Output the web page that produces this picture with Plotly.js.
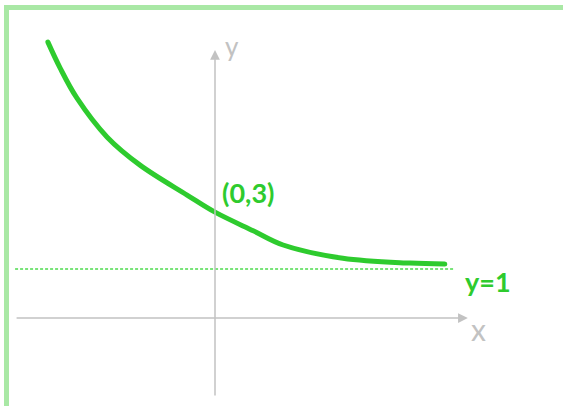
<!DOCTYPE html>
<html><head><meta charset="utf-8">
<script src="https://cdn.plot.ly/plotly-3.0.1.min.js"></script>
<style>html,body{margin:0;padding:0;background:#fff;}#chart{width:563px;height:406px;}
.scatterlayer .trace:last-child path.js-line{stroke-linecap:round !important;stroke-linejoin:round !important;}</style>
</head><body><div id="chart"></div>
<script>
// Curve (units: origin at axes crossing, asymptote at y=1)
const curveX = [-3.41, -3.16, -2.82, -2.20, -1.53, -0.57, 0.00, 0.78, 1.39, 2.61, 3.98, 4.69];
const curveY = [5.63, 5.10, 4.49, 3.69, 3.12, 2.51, 2.16, 1.78, 1.49, 1.22, 1.12, 1.10];
const asymX = [-4.08, 4.90];
const asymY = [1, 1];
const pointLabel = "(0,3)";
const asymLabel = "y=1";
const xLabel = "x";
const yLabel = "y";

const green = "#2ecb2e";
const gray = "#c2c2c2";

const traces = [
  {x: asymX, y: asymY, mode: "lines", line: {color: "#4ddc4d", width: 1.5, dash: "3px,2px"}, hoverinfo: "skip"},
  {x: curveX, y: curveY, mode: "lines", line: {color: green, width: 5, shape: "spline", smoothing: 1}, hoverinfo: "skip"}
];

const layout = {
  width: 563, height: 406,
  margin: {l: 0, r: 0, t: 0, b: 0},
  paper_bgcolor: "#fff", plot_bgcolor: "#fff",
  showlegend: false,
  xaxis: {range: [-215/49, 348/49], visible: false, fixedrange: true},
  yaxis: {range: [-88/49, 318/49], visible: false, fixedrange: true},
  shapes: [
    {type: "line", xref: "paper", yref: "paper", x0: 4/563, x1: 1, y0: 1 - 7.5/406, y1: 1 - 7.5/406, line: {color: "#a9e8a5", width: 5}},
    {type: "line", xref: "paper", yref: "paper", x0: 6.5/563, x1: 6.5/563, y0: 0, y1: 1 - 5/406, line: {color: "#a9e8a5", width: 5}}
  ],
  annotations: [
    {x: 5.16, y: 0, ax: -4.08, ay: 0, xref: "x", yref: "y", axref: "x", ayref: "y", text: "", showarrow: true, arrowhead: 2, arrowsize: 1.3, arrowwidth: 1.5, arrowcolor: gray},
    {x: 0, y: 5.47, ax: 0, ay: -1.61, xref: "x", yref: "y", axref: "x", ayref: "y", text: "", showarrow: true, arrowhead: 2, arrowsize: 1.3, arrowwidth: 1.5, arrowcolor: gray},
    {x: 0.35, y: 5.55, xref: "x", yref: "y", text: yLabel, showarrow: false, font: {family: "Lato", size: 26, color: gray}},
    {x: 5.37, y: -0.22, xref: "x", yref: "y", text: xLabel, showarrow: false, font: {family: "Lato", size: 30, color: gray}},
    {x: 0.67, y: 2.57, xref: "x", yref: "y", text: pointLabel, showarrow: false, font: {family: "Lato", size: 27, color: green, weight: "bold"}},
    {x: 5.57, y: 0.74, xref: "x", yref: "y", text: asymLabel, showarrow: false, font: {family: "Lato", size: 27, color: green, weight: "bold"}}
  ]
};

Plotly.newPlot("chart", traces, layout, {staticPlot: true, displayModeBar: false});
</script></body></html>
